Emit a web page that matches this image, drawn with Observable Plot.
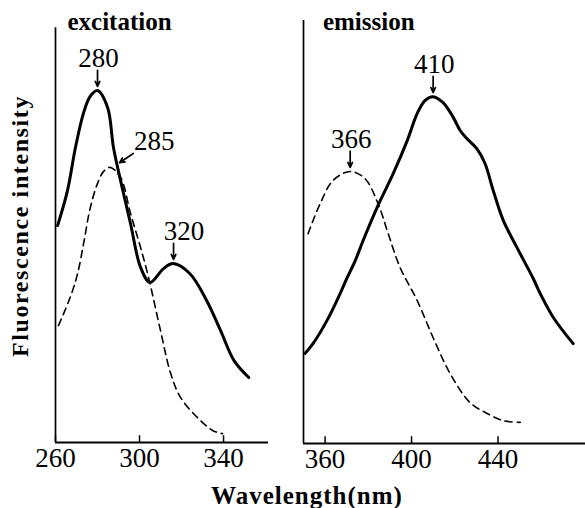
<!DOCTYPE html>
<html><head><meta charset="utf-8">
<script src="https://cdn.jsdelivr.net/npm/d3@7"></script>
<script src="https://cdn.jsdelivr.net/npm/@observablehq/plot@0.6"></script>
<style>
body{margin:0;background:#fff;}
#c{position:relative;width:585px;height:508px;overflow:hidden;font-family:"Liberation Serif",serif;color:#000;}
#c svg{position:absolute;top:0;overflow:visible;font-family:"Liberation Serif",serif !important;}
.ylab{position:absolute;left:21px;top:226px;transform:translate(-50%,-50%) rotate(-90deg);white-space:nowrap;font:bold 24px/1.15 "Liberation Serif",serif;letter-spacing:1.6px;}
.xlab{position:absolute;left:307px;top:496px;transform:translate(-50%,-50%);white-space:nowrap;font:bold 25px/1.15 "Liberation Serif",serif;letter-spacing:1px;}
</style></head><body><div id="c"></div>
<script>
// Excitation panel (wavelength nm, relative intensity)
const exSolidNm = [261,265.7,269.5,273.3,276.5,280,284.8,287.6,291,295.7,300.5,305,311.4,316,324,332,338.6,345,352];
const exSolidI  = [51.4,59.7,69.9,78,82,83.4,79.4,69.9,62,51.9,41.5,37.9,41.2,42.4,40,33.6,26.5,19.4,15.4];
const exDashNm  = [261.4,267,270.5,273.5,276.5,280,283,286,291,295.7,300.5,304.3,310,314.8,319.5,327.6,335,339.5];
const exDashI   = [27.7,34.4,40,47.5,55.5,61.4,64.3,65.2,62.8,54.3,46.2,39.1,26.5,16.4,10.7,5.9,2.8,2.1];
const exTicks = [260,300,340];
const exPeakLabels = ["280","285","320"];
const exPeakNm = [280,290,316.2];
const exPeakI  = [83.4,66.1,42.4];
// Emission panel
const emSolidNm = [350.7,354.4,360.9,367,370.2,374,377.6,384.5,391.5,398,402.6,406.3,410,414.6,419.3,422.5,425.6,430.2,434,437.8,442.5,448.8,456.3,459.5,465.6,474.8];
const emSolidI  = [21.3,23.6,29.1,35.5,39.2,43.3,48,56.3,63.8,71.6,78,81.1,82,80.6,77.1,74,72.1,69.7,66.2,59.8,52.7,46.3,39,35.5,29.8,23.6];
const emDashNm  = [352.1,357.7,363.7,371.6,378.5,384.5,389.2,394.7,402.6,410,417.9,427,435,442.4,450.3];
const emDashI   = [49.6,56.7,62.2,64.3,62.6,56.7,49.6,41.6,33.8,25,16.5,9.7,7.1,5.4,5];
const emTicks = [360,400,440];
const emPeakLabels = ["366","410"];
const emPeakNm = [371.6,410];
const emPeakI  = [64.3,82];

const toRows = (xs, ys) => xs.map((x, i) => ({x, y: ys[i]}));
const FONT = "Liberation Serif";

function panel({nmDomain, width, ml, mr, mb, axisTop, solid, dash, ticks, title, titleNm, annots}) {
  const vert = annots.filter(a => !a.diag);
  const diag = annots.filter(a => a.diag);
  return Plot.plot({
    width, height: 508,
    marginLeft: ml, marginRight: mr, marginTop: 20, marginBottom: mb,
    style: {fontFamily: FONT, fontSize: "27px", color: "#000", background: "none"},
    x: {domain: nmDomain},
    y: {domain: [0, 100], axis: null},
    marks: [
      Plot.ruleX([nmDomain[0]], {y1: 0, y2: axisTop, strokeWidth: 1.7}),
      Plot.ruleY([0], {strokeWidth: 2}),
      Plot.ruleX(ticks, {y1: 0, y2: 1.6, strokeWidth: 1.5}),
      Plot.axisX(ticks, {tickSize: 0, tickPadding: 5, label: null, fontSize: 27, fontFamily: FONT}),
      Plot.line(dash, {x: "x", y: "y", curve: "catmull-rom", stroke: "#000", strokeWidth: 1.6, strokeDasharray: "7,5"}),
      Plot.line(solid, {x: "x", y: "y", curve: "catmull-rom", stroke: "#000", strokeWidth: 3}),
      Plot.text([title], {x: titleNm, y: 97.7, text: d => d, textAnchor: "start", lineAnchor: "bottom", fontSize: 25, fontWeight: "bold", fontFamily: FONT, letterSpacing: 1}),
      Plot.arrow(vert, {x: "nm", x2: "nm", y1: d => d.i + 4.8, y2: d => d.i + 1.0, headLength: 7, headAngle: 50, strokeWidth: 1.7}),
      Plot.text(vert, {x: d => d.nm + (d.dxNm || 0), y: d => d.i + 5.5, text: "label", lineAnchor: "bottom", fontSize: 27, fontFamily: FONT}),
      Plot.arrow(diag, {x1: d => d.nm + 7, y1: d => d.i + 2.4, x2: d => d.nm + 0.5, y2: d => d.i + 0.2, headLength: 7, headAngle: 50, strokeWidth: 1.7}),
      Plot.text(diag, {x: d => d.nm + 17, y: d => d.i + 3.1, text: "label", lineAnchor: "bottom", fontSize: 27, fontFamily: FONT})
    ]
  });
}

const c = document.getElementById("c");
const left = panel({
  nmDomain: [260, 361.4], width: 290, ml: 55, mr: 22, mb: 66, axisTop: 98.3,
  solid: toRows(exSolidNm, exSolidI), dash: toRows(exDashNm, exDashI), ticks: exTicks,
  title: "excitation", titleNm: 265.7,
  annots: exPeakLabels.map((label, i) => ({label, nm: exPeakNm[i], i: exPeakI[i], diag: label === "285", dxNm: label === "320" ? 5 : 0.5}))
});
left.style.left = "0px";
const right = panel({
  nmDomain: [350, 480.5], width: 295, ml: 13, mr: 0, mb: 65, axisTop: 100,
  solid: toRows(emSolidNm, emSolidI), dash: toRows(emDashNm, emDashI), ticks: emTicks,
  title: "emission", titleNm: 359,
  annots: emPeakLabels.map((label, i) => ({label, nm: emPeakNm[i], i: emPeakI[i], diag: false, dxNm: 0.5}))
});
right.style.left = "290px";
c.append(left, right);
const yl = document.createElement("div"); yl.className = "ylab"; yl.textContent = "Fluorescence intensity";
const xl = document.createElement("div"); xl.className = "xlab"; xl.textContent = "Wavelength(nm)";
c.append(yl, xl);
</script></body></html>
